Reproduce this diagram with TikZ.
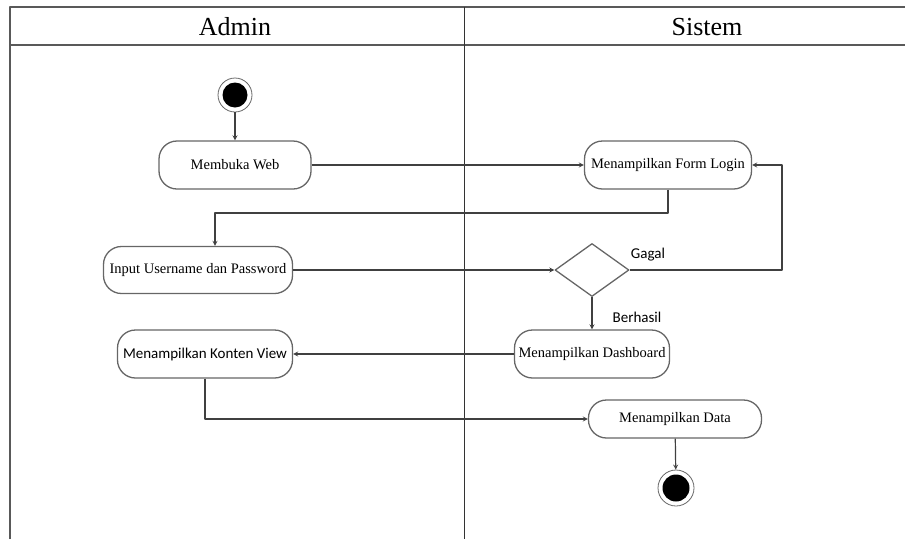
\documentclass[tikz,border=0pt]{standalone}
\usepackage{fontspec}
\setmainfont{Liberation Serif}
\newfontfamily\calibri{Carlito}
\usetikzlibrary{shapes.geometric}
\begin{document}
\begin{tikzpicture}[x=1pt,y=-1pt,line join=round,>=stealth,
    act/.style={draw=black!60,line width=1.3pt,rounded corners=18pt,minimum height=48pt,
      inner sep=2pt,font=\fontsize{14.5}{16}\selectfont},
    flow/.style={->,draw=black!75,line width=1.2pt},
    lane/.style={draw=black!65,line width=1.6pt},
    lbl/.style={font=\calibri\fontsize{15}{18}\selectfont}]
    \useasboundingbox (0,0) rectangle (905,539);
    % swimlanes
    \draw[lane] (10,539) -- (10,7) -- (905,7);
    \draw[lane] (10,45) -- (905,45);
    \draw[lane,draw=black!80,line width=1pt] (464,7) -- (464,539);
    \node[font=\fontsize{26}{30}\selectfont] (admin) at (235,27) {Admin};
    \node[font=\fontsize{26}{30}\selectfont] (sistem) at (707,27) {Sistem};
    % start
    \node[circle,draw=black!60,thick,minimum size=34pt] (start) at (235,95) {};
    \fill (start) circle (12.5pt);
    \node[act,minimum width=152pt] (web) at (235,165) {Membuka Web};
    \node[act,minimum width=167pt] (form) at (668,165) {Menampilkan Form Login};
    \node[act,minimum width=189pt,minimum height=47pt] (input) at (198,270) {Input Username dan Password};
    \node[diamond,draw=black!60,line width=1.3pt,minimum width=74pt,minimum height=53pt,inner sep=0pt] (cek) at (592,270) {};
    \node[act,minimum width=155pt] (dash) at (592,354) {Menampilkan Dashboard};
    \node[act,minimum width=175pt,font=\calibri\fontsize{15}{16}\selectfont] (konten) at (205,354) {Menampilkan Konten View};
    \node[act,minimum width=173pt,minimum height=38pt] (data) at (675,419) {Menampilkan Data};
    % end
    \node[circle,draw=black!60,thick,minimum size=36pt] (end) at (676,488) {};
    \fill (end) circle (13.5pt);
    % flows
    \coordinate (k1) at (215,213);
    \coordinate (k2) at (782,270);
    \draw[flow] (start) -- (web);
    \draw[flow] (web) -- (form);
    \draw[flow] (form.south) |- (k1) -- (k1 |- input.north);
    \draw[flow] (input.east) -- (cek.west);
    \draw[flow] (cek.east) -- (k2) |- (form.east);
    \node[lbl] (gagal) at (648,255) {Gagal};
    \draw[flow] (cek) -- (dash);
    \node[lbl] (berhasil) at (637,317) {Berhasil};
    \draw[flow] (dash) -- (konten);
    \draw[flow] (konten.south) |- (data.west);
    \draw[flow] (data) -- (end);
\end{tikzpicture}
\end{document}
